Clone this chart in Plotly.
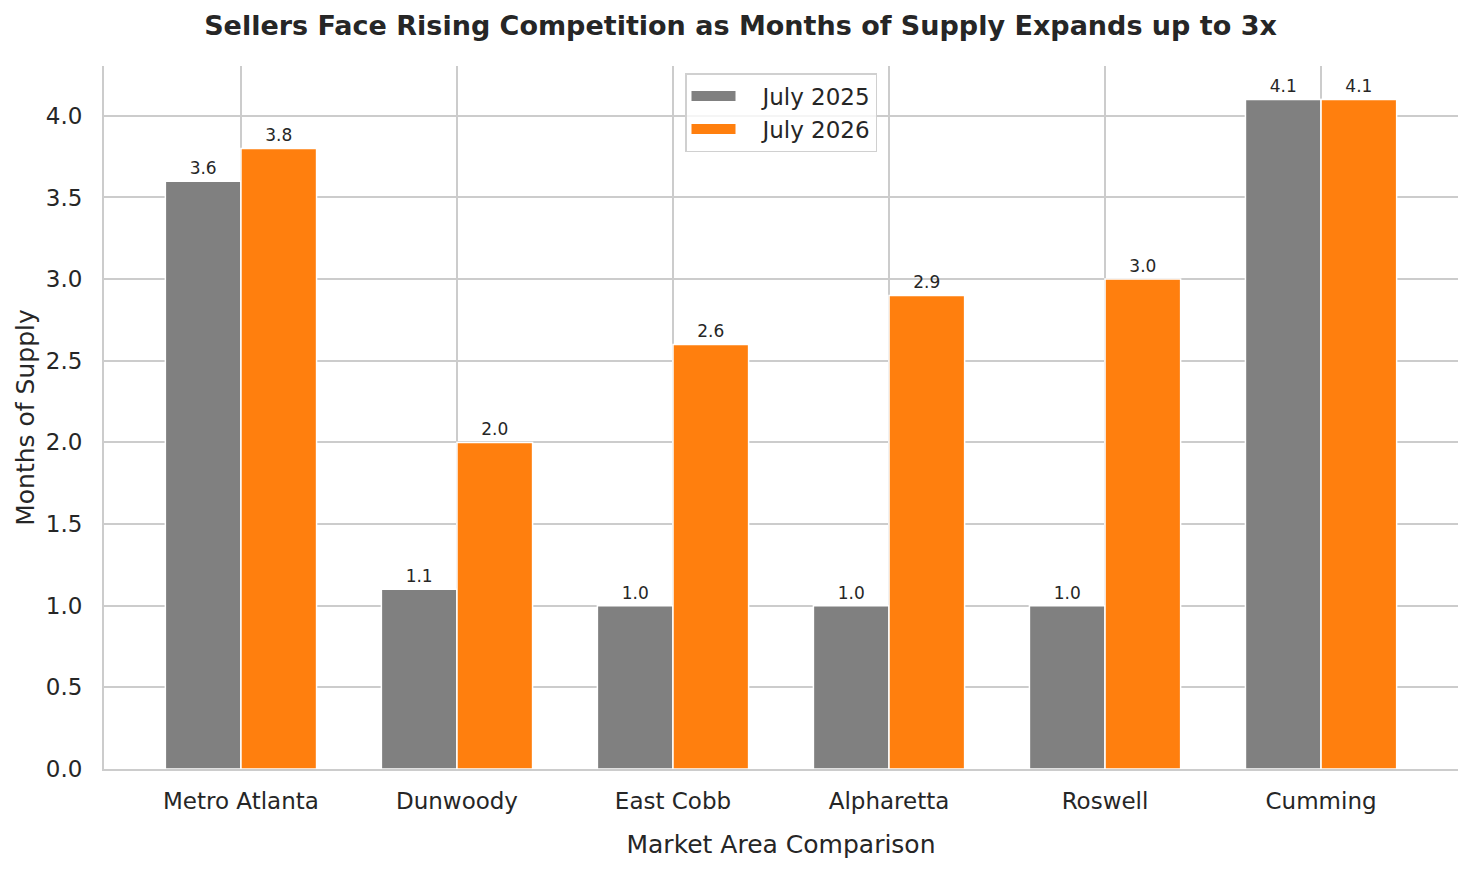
import plotly.graph_objects as go

areas = ["Metro Atlanta", "Dunwoody", "East Cobb", "Alpharetta", "Roswell", "Cumming"]
supply_2025 = [3.6, 1.1, 1.0, 1.0, 1.0, 4.1]
supply_2026 = [3.8, 2.0, 2.6, 2.9, 3.0, 4.1]
series_names = ["July 2025", "July 2026"]
colors = ["#808080", "#ff7f0e"]

TEXT = "#262626"
GRID = "#cccccc"

fig = go.Figure()
for name, vals, color in zip(series_names, [supply_2025, supply_2026], colors):
    fig.add_trace(
        go.Bar(x=areas,
               y=vals,
               name=name,
               showlegend=False,
               marker=dict(color=color, line=dict(color="white", width=1.5)),
               text=[f"{v:.1f}" for v in vals],
               textposition="outside",
               constraintext="none",
               cliponaxis=False,
               textfont=dict(size=17, color=TEXT)))

# wide rectangle swatches for the legend, like matplotlib patches
for name, color in zip(series_names, colors):
    fig.add_trace(
        go.Scatter(x=[None], y=[None], mode="lines",
                   name="\u00a0\u00a0\u00a0" + name,
                   line=dict(color=color, width=14)))

fig.update_layout(
    width=1465,
    height=864,
    barmode="group",
    bargap=0.3,
    bargroupgap=0,
    paper_bgcolor="white",
    plot_bgcolor="white",
    font=dict(family="DejaVu Sans", color=TEXT, size=23),
    margin=dict(l=96, r=15, t=58, b=103),
    title=dict(text="<b>Sellers Face Rising Competition as Months of Supply Expands up to 3x</b>",
               x=0.5, xanchor="center", y=0.98, yanchor="middle",
               font=dict(size=27, color=TEXT)),
    legend=dict(x=0.5, xanchor="center", y=0.99, yanchor="top",
                bordercolor="#d0d0d0", borderwidth=1.5, bgcolor="rgba(255,255,255,0.8)",
                itemwidth=44, tracegroupgap=0,
                font=dict(size=23, color=TEXT)),
    showlegend=True,
)
fig.update_xaxes(
    range=[-0.634, 5.634],
    automargin=False,
    showgrid=True, gridcolor=GRID, gridwidth=1.5,
    showline=True, linecolor=GRID, linewidth=2,
    ticks="", ticklabelstandoff=10,
    title=dict(text="Market Area Comparison", standoff=23, font=dict(size=25)),
)
fig.update_yaxes(
    range=[0, 4.305],
    automargin=False,
    dtick=0.5, tickformat=".1f",
    showgrid=True, gridcolor=GRID, gridwidth=1.5,
    zeroline=False,
    showline=True, linecolor=GRID, linewidth=2,
    ticks="", ticklabelstandoff=15,
    title=dict(text="Months of Supply", standoff=4, font=dict(size=25)),
)

fig.write_html("out.html")
